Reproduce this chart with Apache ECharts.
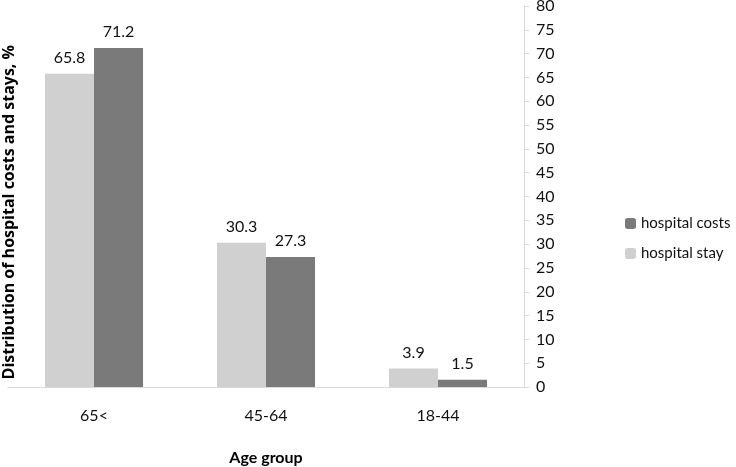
<!DOCTYPE html>
<html><head><meta charset="utf-8">
<script src="https://cdn.jsdelivr.net/npm/echarts@6/dist/echarts.min.js"></script>
<style>html,body{margin:0;padding:0;background:#fff}#c{width:736px;height:467px}</style>
</head><body><div id="c"></div>
<script>
const categories = ['65<', '45-64', '18-44'];
const hospitalStay = [65.8, 30.3, 3.9];
const hospitalCosts = [71.2, 27.3, 1.5];
const FONT = 'Lato, "Open Sans", sans-serif';
const chart = echarts.init(document.getElementById('c'));
chart.setOption({
  animation: false,
  textStyle: {fontFamily: FONT},
  grid: {left: 8, right: 212, top: 6, bottom: 80, outerBoundsMode: 'none', containLabel: false},
  legend: {
    orient: 'vertical', left: 620, top: 211, itemWidth: 11, itemHeight: 11, itemGap: 15,
    textStyle: {fontSize: 15, color: '#111', fontFamily: FONT},
    data: ['hospital costs', 'hospital stay']
  },
  xAxis: {
    type: 'category', data: categories,
    axisLine: {lineStyle: {color: '#d9d9d9'}}, axisTick: {show: false},
    axisLabel: {fontSize: 16, color: '#111', margin: 21},
    name: 'Age group', nameLocation: 'middle', nameGap: 63,
    nameTextStyle: {fontSize: 16, fontWeight: 'bold', color: '#000'}
  },
  yAxis: {
    type: 'value', position: 'right', min: 0, max: 80, interval: 5,
    axisLine: {show: true, lineStyle: {color: '#d9d9d9'}},
    axisTick: {show: true, length: 5, lineStyle: {color: '#d9d9d9'}},
    axisLabel: {fontSize: 16, color: '#111', margin: 12},
    splitLine: {show: false}
  },
  graphic: [{
    type: 'text', left: 1, top: 45, rotation: Math.PI / 2,
    style: {text: 'Distribution of hospital costs and stays, %', fontSize: 16, fontWeight: 'bold', fill: '#000', fontFamily: '"Open Sans", Lato, sans-serif'}
  }],
  series: [
    {name: 'hospital stay', type: 'bar', data: hospitalStay, barWidth: '28.5%', barGap: '0%',
     itemStyle: {color: '#d0d0d0'},
     label: {show: true, position: 'top', distance: 8, fontSize: 16, color: '#111', formatter: p => p.value.toFixed(1)}},
    {name: 'hospital costs', type: 'bar', data: hospitalCosts, barWidth: '28.5%', barGap: '0%',
     itemStyle: {color: '#7a7a7a'},
     label: {show: true, position: 'top', distance: 8, fontSize: 16, color: '#111', formatter: p => p.value.toFixed(1)}}
  ]
});
</script></body></html>
